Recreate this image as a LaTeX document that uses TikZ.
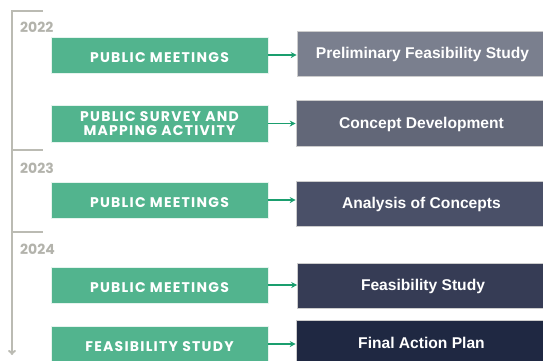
\documentclass[tikz,border=0pt]{standalone}
\usepackage{fontspec}
\setmainfont{Liberation Sans}
\newfontfamily\greenfont[LetterSpace=9]{Poppins}
\newfontfamily\yearfont{Poppins}
\usetikzlibrary{arrows.meta}
\definecolor{grn}{HTML}{52B48E}
\definecolor{arr}{HTML}{1A9E6E}
\definecolor{tl}{HTML}{BBBBB3}
\definecolor{yr}{HTML}{B3B3AC}
\definecolor{gA}{HTML}{7A7F8E}
\definecolor{gB}{HTML}{626778}
\definecolor{gC}{HTML}{4A5068}
\definecolor{gD}{HTML}{363C55}
\definecolor{gE}{HTML}{1F2842}
\newcommand{\dn}[2][-3pt]{\raisebox{#1}[\height][\depth]{#2}}
\tikzset{
  gbox/.style={fill=grn, draw=white!85!grn, line width=0.6pt, text=white, minimum width=217pt, inner sep=0pt, align=center, font=\greenfont\bfseries\fontsize{14}{13}\selectfont},
  dbox/.style={draw=white!80!black, line width=0.6pt, text=white, minimum width=251pt, inner sep=0pt, text height=10.6pt, text depth=0pt, font=\bfseries\fontsize{15.6}{17}\selectfont},
  link/.style={draw=arr, line width=1.2pt, -{Stealth[length=6pt,width=6pt]}},
  tline/.style={draw=tl, line width=2pt},
  year/.style={text=yr, anchor=west, inner sep=0pt, font=\yearfont\bfseries\fontsize{14}{15}\selectfont}
}
\begin{document}
\begin{tikzpicture}[x=1pt,y=-1pt]
\useasboundingbox (0,0) rectangle (543,360);
\clip (0,0) rectangle (543,360);
% timeline
\coordinate (t0) at (43,11);
\coordinate (t1) at (12,11);
\coordinate (tend) at (12,355);
\coordinate (k1a) at (12,150);
\coordinate (k1b) at (43,150);
\coordinate (k2a) at (12,232);
\coordinate (k2b) at (43,232);
\draw[tline, -{To[length=5pt,width=8pt]}] (t0) -- (t1) -- (tend);
\draw[tline] (k1a) -- (k1b);
\draw[tline] (k2a) -- (k2b);
\node[year] (y1) at (20,27) {2022};
\node[year] (y2) at (20,168) {2023};
\node[year] (y3) at (20,249) {2024};
% green boxes
\node[gbox, minimum height=36pt] (a1) at (159.5,55) {\dn{PUBLIC MEETINGS}};
\node[gbox, minimum height=37pt] (a2) at (159.5,123.5) {\dn[-2pt]{\begin{tabular}{@{}c@{}}PUBLIC SURVEY AND\\MAPPING ACTIVITY\end{tabular}}};
\node[gbox, minimum height=36pt] (a3) at (159.5,200) {\dn{PUBLIC MEETINGS}};
\node[gbox, minimum height=36pt] (a4) at (159.5,285) {\dn{PUBLIC MEETINGS}};
\node[gbox, minimum height=36pt] (a5) at (159.5,344) {\dn{FEASIBILITY STUDY}};
% dark boxes
\node[dbox, fill=gA, minimum height=45pt] (b1) at (422.5,53.5) {Preliminary Feasibility Study};
\node[dbox, fill=gB, minimum height=46pt] (b2) at (421.5,123) {Concept Development};
\node[dbox, fill=gC, minimum height=45pt] (b3) at (421.5,203.5) {Analysis of Concepts};
\node[dbox, fill=gD, minimum height=45pt] (b4) at (423,285.5) {Feasibility Study};
\node[dbox, fill=gE, minimum height=45pt] (b5) at (421.5,343) {Final Action Plan};
% links
\draw[link] (a1.east) -- (a1.east -| b1.west);
\draw[link] (a2.east) -- (a2.east -| b2.west);
\draw[link] (a3.east) -- (a3.east -| b3.west);
\draw[link] (a4.east) -- (a4.east -| b4.west);
\draw[link] (a5.east) -- (a5.east -| b5.west);
\end{tikzpicture}
\end{document}
